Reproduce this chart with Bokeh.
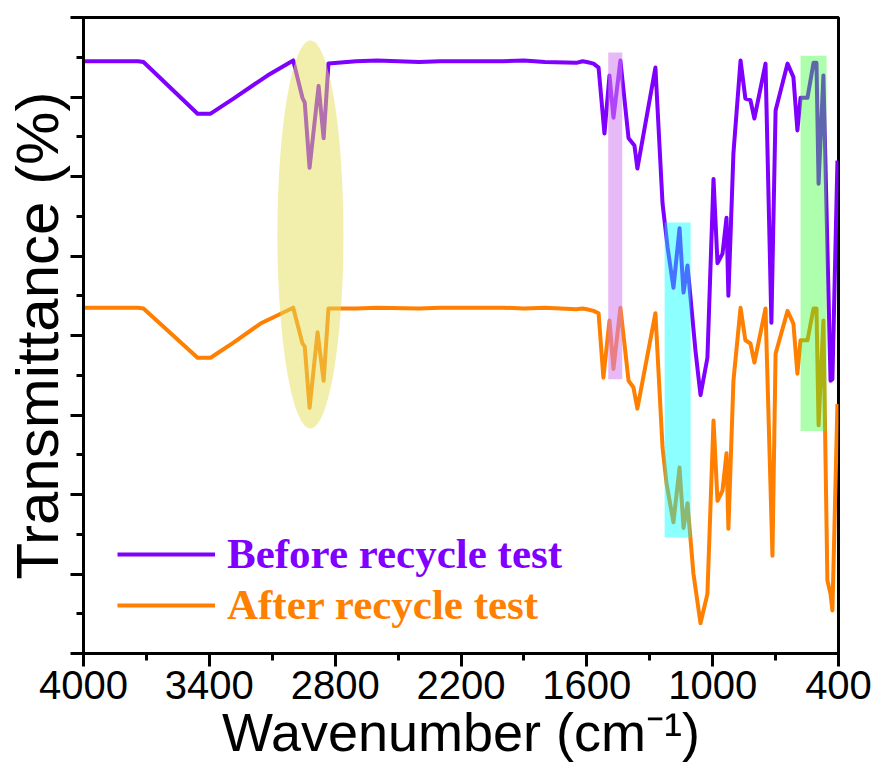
from bokeh.plotting import figure
from bokeh.models import Range1d, FixedTicker, Legend, LegendItem, CustomJSTickFormatter
from bokeh.embed import file_html
from bokeh.resources import INLINE

# ---------------- data ----------------
wn_before = [4000, 3740, 3714, 3456, 3394, 3285, 3123, 3000, 2956, 2945, 2922, 2879, 2855, 2832,
             2700, 2600, 2400, 2300, 2000, 1900, 1800, 1650, 1620, 1600, 1568, 1544, 1516, 1492,
             1473, 1440, 1401, 1373, 1359, 1273, 1239, 1215, 1187, 1158, 1139, 1120, 1082, 1058,
             1025, 996, 977, 953, 934, 925, 901, 867, 844, 820, 801, 748, 720, 700, 643, 615,
             596, 581, 548, 519, 505, 495, 472, 438, 429, 405]
t_before = [7.45, 7.45, 7.44, 6.79, 6.79, 6.98, 7.27, 7.46, 6.99, 6.93, 6.11, 7.14, 6.48, 7.42,
            7.45, 7.46, 7.44, 7.45, 7.45, 7.46, 7.44, 7.43, 7.45, 7.44, 7.42, 7.37, 6.54, 7.27,
            6.74, 7.46, 6.48, 6.39, 6.10, 7.37, 5.66, 5.11, 4.60, 5.35, 4.54, 4.88, 3.81, 3.25,
            3.72, 5.97, 4.91, 5.03, 5.48, 4.50, 6.29, 7.46, 6.98, 6.96, 6.73, 7.42, 4.16, 6.83,
            7.42, 7.25, 6.58, 6.99, 6.99, 7.43, 7.43, 5.91, 7.27, 3.43, 3.45, 6.20]

wn_after = [4000, 3740, 3714, 3456, 3394, 3285, 3156, 3000, 2956, 2945, 2922, 2884, 2855, 2832,
            2700, 2600, 2400, 2300, 2000, 1900, 1800, 1650, 1620, 1600, 1568, 1544, 1521, 1492,
            1473, 1440, 1401, 1378, 1359, 1273, 1239, 1220, 1187, 1158, 1139, 1120, 1092, 1058,
            1025, 996, 977, 953, 934, 925, 901, 867, 844, 820, 801, 748, 715, 700, 643, 615,
            596, 581, 548, 519, 505, 495, 472, 453, 438, 429, 405]
t_after = [4.35, 4.35, 4.34, 3.72, 3.72, 3.91, 4.15, 4.35, 3.90, 3.86, 3.09, 4.04, 3.43, 4.34,
           4.34, 4.35, 4.34, 4.35, 4.35, 4.34, 4.35, 4.33, 4.34, 4.33, 4.31, 4.28, 3.47, 4.19,
           3.58, 4.35, 3.43, 3.35, 3.08, 4.28, 2.59, 2.14, 1.65, 2.34, 1.58, 1.89, 1.01, 0.38,
           0.75, 2.93, 1.92, 2.05, 2.52, 1.57, 3.43, 4.35, 3.94, 3.90, 3.66, 4.34, 1.23, 3.77,
           4.31, 4.15, 3.52, 3.94, 3.94, 4.34, 4.34, 2.87, 4.19, 0.92, 0.75, 0.54, 3.14]

series_labels = ["Before recycle test", "After recycle test"]

x_major_ticks = [4000, 3400, 2800, 2200, 1600, 1000, 400]
x_minor_ticks = [3700, 3100, 2500, 1900, 1300, 700]
y_major_ticks = [0, 1, 2, 3, 4, 5, 6, 7, 8]
y_minor_ticks = [0.5, 1.5, 2.5, 3.5, 4.5, 5.5, 6.5, 7.5]

# highlighted bands (wavenumber left/right, transmittance bottom/top)
band_left = [1498, 1229, 581]
band_right = [1431, 1105, 457]
band_bottom = [3.45, 1.46, 2.80]
band_top = [7.56, 5.42, 7.52]
band_colors = ["#D67FF0", "#00FFFF", "#33FF33"]
band_alphas = [0.55, 0.45, 0.40]

# highlighted ellipse (C-H stretch region)
ell_x = [2918]
ell_y = [5.27]
ell_w = [315]
ell_h = [4.88]

PURPLE = "#7F00FF"
ORANGE = "#FF7F00"

# ---------------- figure ----------------
p = figure(width=875, height=771, output_backend="svg", toolbar_location=None,
           x_range=Range1d(4000, 400), y_range=Range1d(0, 8),
           min_border_left=83, min_border_right=37, min_border_top=17, min_border_bottom=118)
p.grid.visible = False
p.outline_line_color = "black"
p.outline_line_width = 3
p.background_fill_color = "white"
p.border_fill_color = "white"

r1 = p.line(wn_before, t_before, line_color=PURPLE, line_width=4, line_join="round")
r2 = p.line(wn_after, t_after, line_color=ORANGE, line_width=4, line_join="round")

p.ellipse(x=ell_x, y=ell_y, width=ell_w, height=ell_h, fill_color="#E6E05A",
          fill_alpha=0.5, line_color=None)
for l, r, b, t, c, a in zip(band_left, band_right, band_bottom, band_top, band_colors, band_alphas):
    p.quad(left=[l], right=[r], bottom=[b], top=[t], fill_color=c, fill_alpha=a, line_color=None)

# axes
xa = p.xaxis[0]
xa.ticker = FixedTicker(ticks=x_major_ticks, minor_ticks=x_minor_ticks)
xa.axis_label = "Wavenumber (cm\u207b\u00b9)"
xa.axis_label_text_font = "Liberation Sans"
xa.axis_label_text_font_style = "normal"
xa.axis_label_text_font_size = "54px"
xa.axis_label_standoff = 0
xa.major_label_text_font = "Liberation Sans"
xa.major_label_text_font_style = "normal"
xa.major_label_text_font_size = "40px"
xa.major_label_standoff = 4

ya = p.yaxis[0]
ya.ticker = FixedTicker(ticks=y_major_ticks, minor_ticks=y_minor_ticks)
ya.formatter = CustomJSTickFormatter(code="return ''")
ya.axis_label = "Transmittance (%)"
ya.axis_label_text_font = "Liberation Sans"
ya.axis_label_text_font_style = "normal"
ya.axis_label_text_font_size = "60px"
ya.axis_label_standoff = 0
ya.major_label_standoff = 0

for ax in (xa, ya):
    ax.axis_line_width = 3
    ax.major_tick_line_width = 3
    ax.minor_tick_line_width = 3
    ax.major_tick_in = 0
    ax.minor_tick_in = 0
    ax.major_tick_out = 13
    ax.minor_tick_out = 7
    ax.axis_label_text_color = "black"
    ax.major_label_text_color = "black"

# legends
for rend, label, color, loc in [(r1, series_labels[0], PURPLE, (34, 75)),
                                (r2, series_labels[1], ORANGE, (34, 24))]:
    lg = Legend(items=[LegendItem(label=label, renderers=[rend])], location=loc,
                label_text_font="Liberation Serif", label_text_font_style="bold",
                label_text_font_size="43px", label_text_color=color,
                glyph_width=98, glyph_height=40, label_height=40, label_standoff=12,
                padding=0, margin=0, spacing=0, border_line_color=None,
                background_fill_alpha=0)
    p.add_layout(lg)

open("out.html", "w").write(file_html(p, INLINE))
